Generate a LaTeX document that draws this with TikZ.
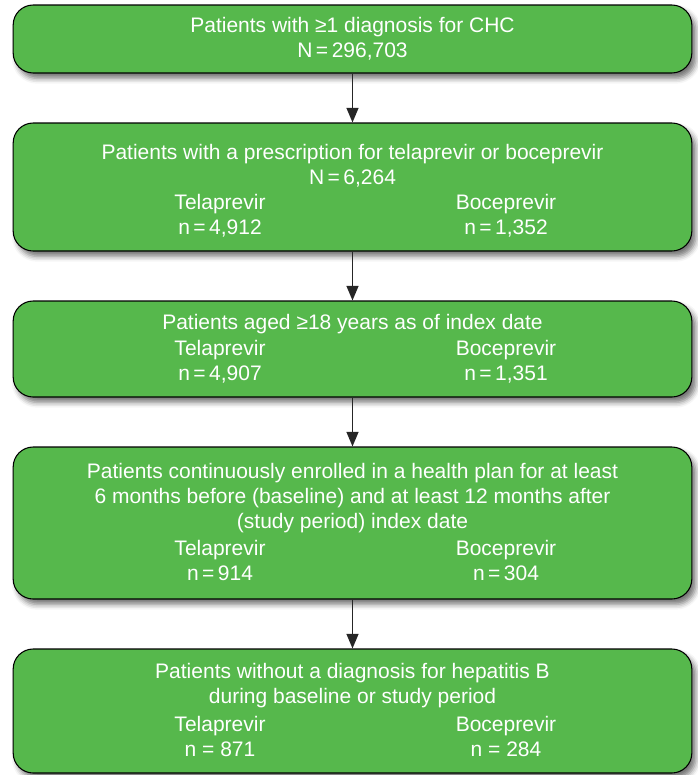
\documentclass[tikz,border=0pt]{standalone}
\usepackage{fontspec}
\setmainfont{Liberation Sans}
\usetikzlibrary{arrows.meta,shadows.blur}
\definecolor{boxgreen}{RGB}{86,184,76}

\begin{document}
\begin{tikzpicture}[x=0.75pt,y=-0.75pt,
  box/.style={draw=black,line width=0.8pt,fill=boxgreen,rounded corners=15pt,minimum width=509pt,
    blur shadow={shadow xshift=3pt,shadow yshift=-4pt,shadow blur radius=4pt,shadow opacity=55}},
  txt/.style={text=white,font=\fontsize{15.75}{18.75}\selectfont,align=center,inner sep=0pt},
  arr/.style={draw=black!85,line width=1.1pt,-{Triangle[width=9pt,length=11pt]}}]
\useasboundingbox (0,0) rectangle (697,775);

% boxes
\node[box,minimum height=51pt] (b1) at (352.5,39) {};
\node[box,minimum height=96pt] (b2) at (352.5,187) {};
\node[box,minimum height=72pt] (b3) at (352.5,349) {};
\node[box,minimum height=114pt] (b4) at (352.5,523) {};
\node[box,minimum height=93pt] (b5) at (352.5,711) {};

% texts
\node[txt] (t1) at (352.5,39) {Patients with ≥1 diagnosis for CHC\\N\,=\,296,703};

\node[txt] (t2) at (352.5,165.5) {Patients with a prescription for telaprevir or boceprevir\\N\,=\,6,264};
\node[txt] (tela2) at (220,215.5) {Telaprevir\\n\,=\,4,912};
\node[txt] (boce2) at (506,215.5) {Boceprevir\\n\,=\,1,352};

\node[txt] (t3) at (352.5,324) {Patients aged ≥18 years as of index date};
\node[txt] (tela3) at (220,361.5) {Telaprevir\\n\,=\,4,907};
\node[txt] (boce3) at (506,361.5) {Boceprevir\\n\,=\,1,351};

\node[txt] (t4) at (352.5,498) {Patients continuously enrolled in a health plan for at least\\6 months before (baseline) and at least 12 months after\\(study period) index date};
\node[txt] (tela4) at (220,560.5) {Telaprevir\\n\,=\,914};
\node[txt] (boce4) at (506,560.5) {Boceprevir\\n\,=\,304};

\node[txt] (t5) at (352.5,686) {Patients without a diagnosis for hepatitis B\\during baseline or study period};
\node[txt] (tela5) at (220,736) {Telaprevir\\n = 871};
\node[txt] (boce5) at (506,736) {Boceprevir\\n = 284};

% arrows
\draw[arr] (b1) -- (b2);
\draw[arr] (b2) -- (b3);
\draw[arr] (b3) -- (b4);
\draw[arr] (b4) -- (b5);
\end{tikzpicture}
\end{document}
